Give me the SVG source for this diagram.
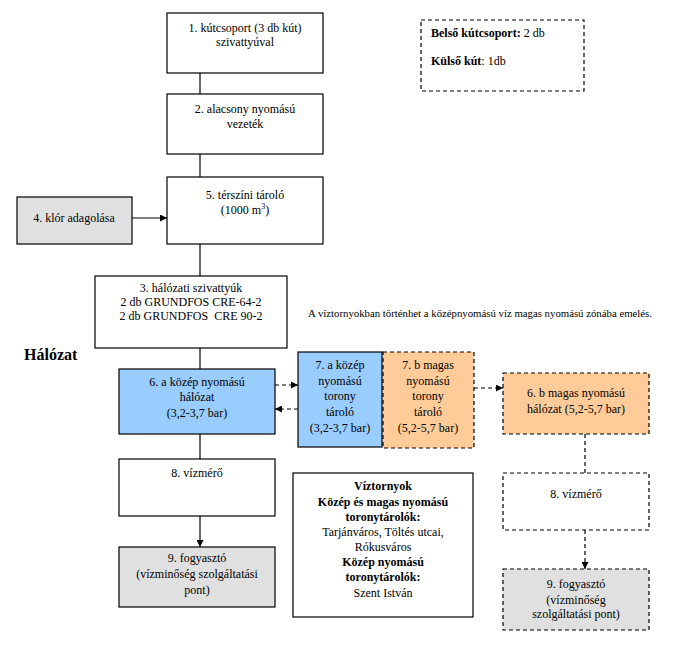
<svg xmlns="http://www.w3.org/2000/svg" width="677" height="663" viewBox="0 0 677 663">
<style>
text{font-family:"Liberation Serif","Times New Roman",serif;font-size:12px;fill:#000}
text.note{font-size:9.5px}
text.title{font-size:16px}
.c{text-anchor:middle}
.b{font-weight:bold}
.box{fill:#fff;stroke:#000;stroke-width:1.2}
.gray{fill:#e0e0e0}
.blue{fill:#99ccff}
.orange{fill:#ffcc99}
.dash{stroke-dasharray:4,3}
.ln{stroke:#000;stroke-width:1.2;fill:none}
</style>
<defs>
<marker id="ah" viewBox="0 0 10 10" refX="10" refY="5" markerWidth="7" markerHeight="7" markerUnits="userSpaceOnUse" orient="auto">
<path d="M0,0 L10,5 L0,10 z" fill="#000"/>
</marker>
</defs>
<rect width="677" height="663" fill="#fff"/>
<g id="connectors">
<line class="ln" x1="200" y1="73" x2="200" y2="94"/>
<line class="ln" x1="200" y1="154" x2="200" y2="177"/>
<line class="ln" x1="132" y1="218" x2="167" y2="218" marker-end="url(#ah)"/>
<line class="ln" x1="200" y1="244" x2="200" y2="276"/>
<line class="ln" x1="200" y1="348" x2="200" y2="369"/>
<line class="ln dash" x1="275" y1="385" x2="298" y2="385" marker-end="url(#ah)"/>
<line class="ln dash" x1="298" y1="409" x2="275" y2="409" marker-end="url(#ah)"/>
<line class="ln dash" x1="474" y1="388" x2="503" y2="388" marker-end="url(#ah)"/>
<line class="ln" x1="200" y1="434" x2="200" y2="459"/>
<line class="ln" x1="200" y1="516" x2="200" y2="547" marker-end="url(#ah)"/>
<line class="ln dash" x1="585" y1="434" x2="585" y2="473"/>
<line class="ln dash" x1="585" y1="530" x2="585" y2="569" marker-end="url(#ah)"/>
</g>
<g id="n1"><rect class="box" x="167" y="13" width="156" height="60"/>
<text class="c" x="245" y="32">1. kútcsoport (3 db kút)</text><text class="c" x="245" y="46">szivattyúval</text></g>
<g id="n2"><rect class="box" x="167" y="94" width="156" height="60"/>
<text class="c" x="245" y="113">2. alacsony nyomású</text><text class="c" x="245" y="128">vezeték</text></g>
<g id="legend"><rect class="box dash" x="421" y="20" width="163" height="71"/>
<text x="431" y="37"><tspan class="b">Belső kútcsoport:</tspan> 2 db</text>
<text x="431" y="65"><tspan class="b">Külső kút</tspan>: 1db</text></g>
<g id="n5"><rect class="box" x="167" y="177" width="156" height="67"/>
<text class="c" x="245" y="199">5. térszíni tároló</text><text class="c" x="245" y="214">(1000 m<tspan dy="-5" font-size="8">3</tspan><tspan dy="5">)</tspan></text></g>
<g id="n4"><rect class="box gray" x="17" y="197" width="115" height="47"/>
<text class="c" x="74" y="222">4. klór adagolása</text></g>
<g id="n3"><rect class="box" x="95" y="276" width="192" height="72"/>
<text class="c" x="191" y="292">3. hálózati szivattyúk</text>
<text class="c" x="191" y="306">2 db GRUNDFOS  CRE-64-2</text>
<text class="c" x="191" y="320" xml:space="preserve">2 db GRUNDFOS  CRE 90-2</text></g>
<g id="note"><text class="note" x="308" y="317" textLength="344" lengthAdjust="spacingAndGlyphs">A víztornyokban történhet a középnyomású víz magas nyomású zónába emelés.</text></g>
<g id="halozat"><text class="b title" x="24" y="360">Hálózat</text></g>
<g id="n6a"><rect class="box blue" x="119" y="369" width="156" height="65"/>
<text class="c" x="197" y="386">6. a közép nyomású</text><text class="c" x="197" y="401">hálózat</text><text class="c" x="197" y="417">(3,2-3,7 bar)</text></g>
<g id="n7a"><rect class="box blue" x="298" y="352" width="84" height="95"/>
<text class="c" x="340" y="369">7. a közép</text><text class="c" x="340" y="385">nyomású</text><text class="c" x="340" y="400">torony</text><text class="c" x="340" y="416">tároló</text><text class="c" x="340" y="432">(3,2-3,7 bar)</text></g>
<g id="n7b"><rect class="box orange dash" x="383" y="352" width="91" height="96"/>
<text class="c" x="428" y="369">7. b magas</text><text class="c" x="428" y="385">nyomású</text><text class="c" x="428" y="400">torony</text><text class="c" x="428" y="416">tároló</text><text class="c" x="428" y="432">(5,2-5,7 bar)</text></g>
<g id="n6b"><rect class="box orange dash" x="503" y="373" width="146" height="61"/>
<text class="c" x="576" y="397">6. b magas nyomású</text><text class="c" x="576" y="413">hálózat (5,2-5,7 bar)</text></g>
<g id="n8a"><rect class="box" x="119" y="459" width="156" height="57"/>
<text class="c" x="197" y="477">8. vízmérő</text></g>
<g id="n9a"><rect class="box gray" x="119" y="547" width="156" height="60"/>
<text class="c" x="197" y="562">9. fogyasztó</text><text class="c" x="197" y="578">(vízminőség szolgáltatási</text><text class="c" x="197" y="594">pont)</text></g>
<g id="viztornyok"><rect class="box" x="293" y="473" width="180" height="144"/>
<text class="c b" x="383" y="490">Víztornyok</text>
<text class="c b" x="383" y="506">Közép és magas nyomású</text>
<text class="c b" x="383" y="521">toronytárolók:</text>
<text class="c" x="383" y="536">Tarjánváros, Töltés utcai,</text>
<text class="c" x="383" y="551">Rókusváros</text>
<text class="c b" x="383" y="566">Közép nyomású</text>
<text class="c b" x="383" y="581">toronytárolók:</text>
<text class="c" x="383" y="597">Szent István</text></g>
<g id="n8b"><rect class="box dash" x="503" y="473" width="146" height="57"/>
<text class="c" x="576" y="498">8. vízmérő</text></g>
<g id="n9b"><rect class="box gray dash" x="503" y="569" width="146" height="61"/>
<text class="c" x="576" y="588">9. fogyasztó</text><text class="c" x="576" y="604">(vízminőség</text><text class="c" x="576" y="618">szolgáltatási pont)</text></g>
</svg>
